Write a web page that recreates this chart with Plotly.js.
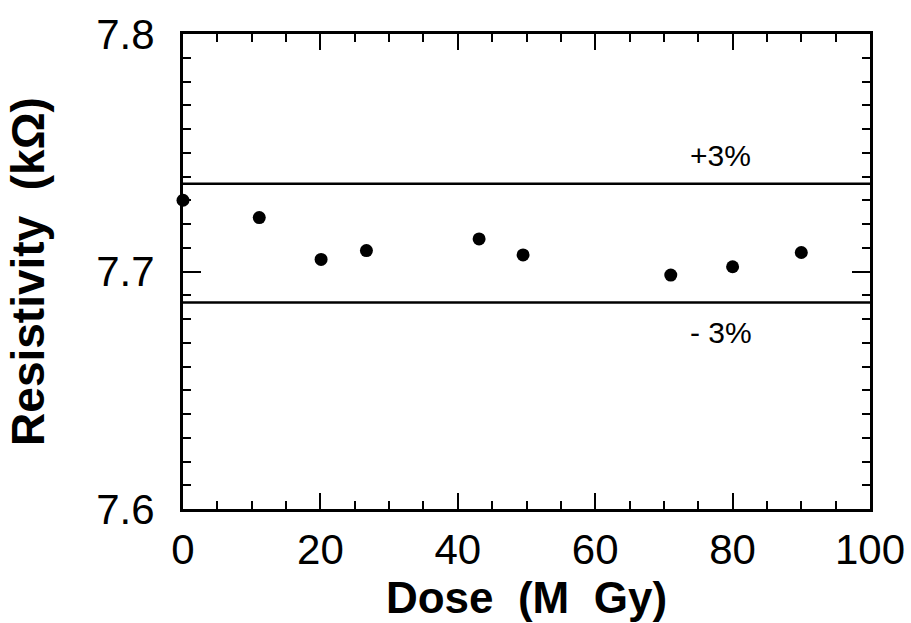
<!DOCTYPE html>
<html>
<head>
<meta charset="utf-8">
<script src="https://cdn.plot.ly/plotly-3.0.1.min.js"></script>
<style>html,body{margin:0;padding:0;background:#fff;}#chart{width:911px;height:623px;}</style>
</head>
<body>
<div id="chart"></div>
<script>
const dose = [0, 11.1, 20.1, 26.7, 43.1, 49.5, 71.0, 80.0, 90.0];
const resistivity = [7.730, 7.7227, 7.7051, 7.7088, 7.7137, 7.707, 7.6985, 7.702, 7.708];
const upperLimit = 7.737;
const lowerLimit = 7.687;
const limitLabels = ["+3%", "- 3%"];
const labelX = 78.3;
const xRange = [0, 100];
const yRange = [7.6, 7.8];
const xTickVals = [0, 20, 40, 60, 80, 100];
const yTickVals = [7.6, 7.7, 7.8];
const yTickText = ["7.6", "7.7", "7.8"];

const traces = [
  {x: xRange, y: [upperLimit, upperLimit], mode: 'lines', line: {color: '#000', width: 2.5}, hoverinfo: 'skip', showlegend: false},
  {x: xRange, y: [lowerLimit, lowerLimit], mode: 'lines', line: {color: '#000', width: 2.5}, hoverinfo: 'skip', showlegend: false},
  {x: dose, y: resistivity, mode: 'markers', marker: {color: '#000', size: 13, symbol: 'circle'}, cliponaxis: false, showlegend: false}
];

const font = 'Liberation Sans, Arial, Helvetica, sans-serif';
const layout = {
  width: 911, height: 623,
  margin: {l: 183, r: 41, t: 34, b: 114},
  paper_bgcolor: '#fff', plot_bgcolor: '#fff',
  showlegend: false,
  font: {family: font, color: '#000'},
  xaxis: {
    range: xRange, showgrid: false, zeroline: false,
    showline: true, linecolor: '#000', linewidth: 3, mirror: 'allticks',
    ticks: 'inside', tickcolor: '#000', tickwidth: 2, ticklen: 16,
    tickvals: xTickVals,
    tickfont: {family: font, size: 42, color: '#000'},
    ticklabelstandoff: 2,
    minor: {dtick: 5, ticks: 'inside', ticklen: 8, tickwidth: 2, tickcolor: '#000', showgrid: false},
    title: {text: '<b>Dose  (M  Gy)</b>', font: {family: font, size: 44, color: '#000'}, standoff: 0}
  },
  yaxis: {
    range: yRange, showgrid: false, zeroline: false,
    showline: true, linecolor: '#000', linewidth: 3, mirror: 'allticks',
    ticks: 'inside', tickcolor: '#000', tickwidth: 2, ticklen: 18,
    tickvals: yTickVals, ticktext: yTickText,
    tickfont: {family: font, size: 42, color: '#000'},
    ticklabelstandoff: 17,
    minor: {dtick: 0.01, ticks: 'inside', ticklen: 8, tickwidth: 2, tickcolor: '#000', showgrid: false},
    title: {text: '<b>Resistivity  (kΩ)</b>', font: {family: font, size: 46, color: '#000'}, standoff: 38}
  },
  annotations: [
    {x: labelX, y: upperLimit, xref: 'x', yref: 'y', text: limitLabels[0], showarrow: false, yanchor: 'bottom', yshift: 10, font: {family: font, size: 30, color: '#000'}},
    {x: labelX, y: lowerLimit, xref: 'x', yref: 'y', text: limitLabels[1], showarrow: false, yanchor: 'top', yshift: -12, font: {family: font, size: 30, color: '#000'}}
  ]
};
Plotly.newPlot('chart', traces, layout, {displayModeBar: false, staticPlot: true});
</script>
</body>
</html>
